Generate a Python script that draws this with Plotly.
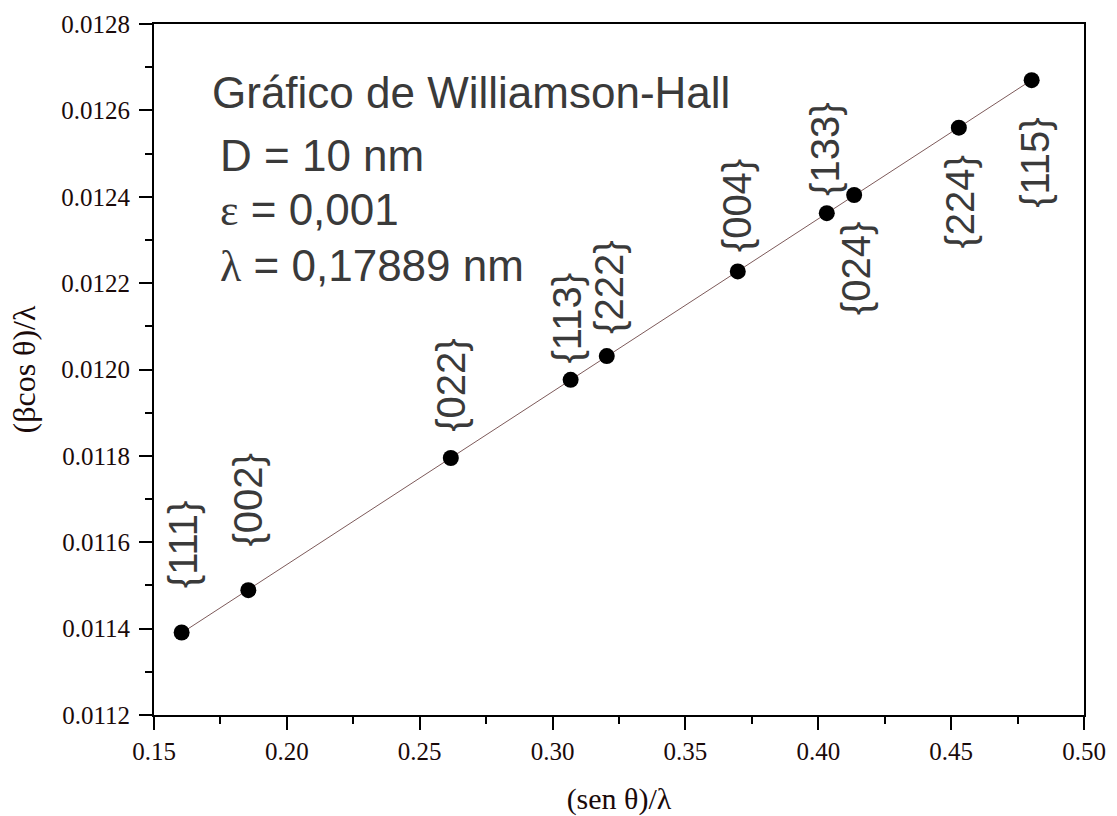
import numpy as np
import plotly.graph_objects as go

# Data
planes = ["{111}", "{002}", "{022}", "{113}", "{222}", "{004}", "{133}", "{024}", "{224}", "{115}"]
sen_theta_lambda = [0.1604, 0.1855, 0.2617, 0.3068, 0.3204, 0.3697, 0.4032, 0.4135, 0.4529, 0.4803]
beta_cos_lambda = [0.011391, 0.011489, 0.011795, 0.011976, 0.012031, 0.012227, 0.012362, 0.012404, 0.012560, 0.012670]

x_ticks = [0.15, 0.20, 0.25, 0.30, 0.35, 0.40, 0.45, 0.50]
y_ticks = [0.0112, 0.0114, 0.0116, 0.0118, 0.0120, 0.0122, 0.0124, 0.0126, 0.0128]

# label offsets (pixels) relative to each point: (xshift, yshift)
label_offsets = [(1, 88), (0, 90), (0, 73), (-4, 62), (2, 69), (0, 66), (-2, 64), (2, -74), (1, -74), (3, -82)]

x = np.array(sen_theta_lambda)
y = np.array(beta_cos_lambda)
m, b = np.polyfit(x, y, 1)
xf = np.array([x.min(), x.max()])
yf = m * xf + b

fig = go.Figure()
fig.add_trace(go.Scatter(x=xf, y=yf, mode="lines",
                         line=dict(color="#7d5a5a", width=1), hoverinfo="skip", showlegend=False))
fig.add_trace(go.Scatter(x=x, y=y, mode="markers",
                         marker=dict(color="black", size=16), showlegend=False))

label_font = dict(family="Liberation Sans, Arial, sans-serif", size=40, color="#3a3a3a")
for name, xi, yi, (dx, dy) in zip(planes, sen_theta_lambda, beta_cos_lambda, label_offsets):
    fig.add_annotation(x=xi, y=yi, xref="x", yref="y", text=name, showarrow=False,
                       textangle=-90, xanchor="center", yanchor="middle",
                       xshift=dx, yshift=dy, font=label_font)

info_font = dict(family="Liberation Sans, Arial, sans-serif", size=44, color="#3a3a3a")
greek = '<span style="font-family:Liberation Serif">%s</span>'
info_lines = [
    ("Gráfico de Williamson-Hall", 210, 92),
    ("D = 10 nm", 218, 155),
    (greek % "ε" + " = 0,001", 218, 210),
    (greek % "λ" + " = 0,17889 nm", 218, 266),
]
plot_l, plot_r, plot_t, plot_b = 154, 1084, 24, 715
for txt, px, py in info_lines:
    fig.add_annotation(x=(px - plot_l) / (plot_r - plot_l), y=(plot_b - py) / (plot_b - plot_t),
                       xref="x domain", yref="y domain", text=txt,
                       showarrow=False, xanchor="left", yanchor="middle", font=info_font)

serif = "Liberation Serif, Times New Roman, serif"
tick_font = dict(family=serif, size=25, color="#1a0a0a")
axis_common = dict(showline=True, linecolor="black", linewidth=2, mirror=True,
                   showgrid=False, zeroline=False, ticks="outside", ticklen=13,
                   tickwidth=2, tickcolor="black", tickfont=tick_font, automargin=False)

fig.update_xaxes(range=[0.15, 0.50], tickvals=x_ticks,
                 ticktext=["%.2f" % v for v in x_ticks],
                 minor=dict(ticks="outside", ticklen=7, tickwidth=2, tickcolor="black", dtick=0.025, tick0=0.15),
                 title=dict(text="(sen θ)/λ", font=dict(family=serif, size=30, color="#1a0a0a"), standoff=24),
                 **axis_common)
fig.update_yaxes(range=[0.0112, 0.0128], tickvals=y_ticks,
                 ticktext=["%.4f" % v for v in y_ticks],
                 minor=dict(ticks="outside", ticklen=7, tickwidth=2, tickcolor="black", dtick=0.0001, tick0=0.0112),
                 title=dict(text="(βcos θ)/λ", font=dict(family=serif, size=32, color="#1a0a0a"), standoff=16),
                 ticklabelstandoff=4,
                 **axis_common)

fig.update_layout(width=1117, height=816, plot_bgcolor="white", paper_bgcolor="white",
                  margin=dict(l=plot_l, r=1117 - plot_r, t=plot_t, b=816 - plot_b, pad=0))

fig.write_html("out.html")
